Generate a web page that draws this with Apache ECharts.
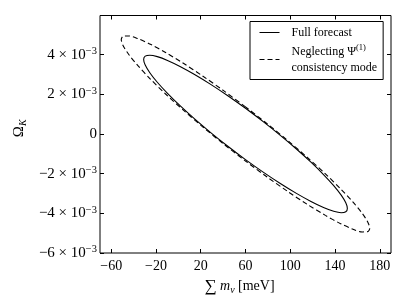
<!DOCTYPE html>
<html><head><meta charset="utf-8">
<script src="https://cdn.jsdelivr.net/npm/echarts@6/dist/echarts.min.js"></script>
<style>html,body{margin:0;padding:0;background:#fff}#c{width:407px;height:305px}</style>
</head><body><div id="c"></div>
<script>
// Sum m_nu [meV] and Omega_K (in units of 1e-3), points read around each contour
const fullX = [60.0,44.2,28.9,14.5,1.5,-9.7,-18.8,-25.5,-29.6,-31.0,-29.6,-25.5,-18.8,-9.7,1.5,14.5,28.9,44.2,60.0,75.8,91.1,105.5,118.5,129.7,138.8,145.5,149.6,151.0,149.6,145.5,138.8,129.7,118.5,105.5,91.1,75.8,60.0];
const fullY = [1.293,1.925,2.498,2.996,3.403,3.706,3.897,3.969,3.921,3.754,3.472,3.085,2.605,2.045,1.423,0.757,0.069,-0.621,-1.293,-1.925,-2.498,-2.996,-3.403,-3.706,-3.897,-3.969,-3.921,-3.754,-3.472,-3.085,-2.605,-2.045,-1.423,-0.757,-0.069,0.621,1.293];
const neglX = [60.0,40.7,22.0,4.5,-11.4,-25.0,-36.1,-44.3,-49.3,-51.0,-49.3,-44.3,-36.1,-25.0,-11.4,4.5,22.0,40.7,60.0,79.3,98.0,115.5,131.4,145.0,156.1,164.3,169.3,171.0,169.3,164.3,156.1,145.0,131.4,115.5,98.0,79.3,60.0];
const neglY = [1.364,2.170,2.910,3.561,4.104,4.522,4.803,4.938,4.923,4.758,4.449,4.005,3.439,2.768,2.013,1.197,0.346,-0.517,-1.364,-2.170,-2.910,-3.561,-4.104,-4.522,-4.803,-4.938,-4.923,-4.758,-4.449,-4.005,-3.439,-2.768,-2.013,-1.197,-0.346,0.517,1.364];
const xTicks = [-60,-20,20,60,100,140,180];
const yTicks = [-6,-4,-2,0,2,4];
const seriesNames = ['Full forecast','Neglecting Ψ(1) consistency mode'];

const FF = 'Liberation Serif';
const pair = (xs, ys) => xs.map((x, i) => [x, ys[i]]);
const minus = s => String(s).replace('-', '\u2212');

const chart = echarts.init(document.getElementById('c'), null, {renderer: 'canvas'});
const tickStyle = {show: true, inside: true, length: 4, lineStyle: {color: '#000', width: 1}};
const noLine = {show: false, onZero: false};
chart.setOption({
  animation: false,
  backgroundColor: '#fff',
  grid: {left: 100, right: 16, top: 15.5, bottom: 52, show: true, borderColor: '#000', borderWidth: 1, backgroundColor: 'transparent'},
  xAxis: [{
    type: 'value', min: -70, max: 190, position: 'bottom',
    axisLine: noLine, splitLine: {show: false},
    axisTick: Object.assign({customValues: xTicks}, tickStyle),
    axisLabel: {customValues: xTicks, margin: 6, color: '#000', fontFamily: FF, fontSize: 14, formatter: v => minus(v)},
    name: '{s|∑} {i|m}{sub|ν} [meV]', nameLocation: 'middle', nameGap: 18,
    nameTextStyle: {color: '#000', fontFamily: FF, fontSize: 14, padding: [0, 12, 0, 0], rich: {
      s: {fontFamily: FF, fontSize: 17, color: '#000', lineHeight: 18},
      i: {fontFamily: FF, fontStyle: 'italic', fontSize: 14, color: '#000', lineHeight: 18},
      sub: {fontFamily: FF, fontStyle: 'italic', fontSize: 10, color: '#000', verticalAlign: 'bottom', lineHeight: 12}
    }}
  }, {
    type: 'value', min: -70, max: 190, position: 'top',
    axisLine: noLine, splitLine: {show: false}, axisLabel: {show: false},
    axisTick: Object.assign({customValues: xTicks}, tickStyle)
  }],
  yAxis: [{
    type: 'value', min: -6, max: 5.97, position: 'left',
    axisLine: noLine, splitLine: {show: false},
    axisTick: Object.assign({customValues: yTicks}, tickStyle),
    axisLabel: {customValues: yTicks, margin: 3, color: '#000', fontFamily: FF, fontSize: 15,
      formatter: v => { const n = Math.round(v); return n === 0 ? '{n|0}' : '{n|' + minus(n) + ' × 10}{sup|\u22123}'; },
      rich: {
        n: {fontFamily: FF, fontSize: 15, color: '#000', lineHeight: 18},
        sup: {fontFamily: FF, fontSize: 10.5, color: '#000', verticalAlign: 'top', lineHeight: 10}
      }},
    name: '{o|Ω}{sub|K}', nameLocation: 'middle', nameGap: 68, nameRotate: 90,
    nameTextStyle: {color: '#000', fontFamily: FF, fontSize: 14, padding: [0, 0, 0, 12], rich: {
      o: {fontFamily: FF, fontSize: 15, color: '#000', lineHeight: 18},
      sub: {fontFamily: FF, fontStyle: 'italic', fontSize: 10, color: '#000', verticalAlign: 'bottom', lineHeight: 12}
    }}
  }, {
    type: 'value', min: -6, max: 5.97, position: 'right',
    axisLine: noLine, splitLine: {show: false}, axisLabel: {show: false},
    axisTick: Object.assign({customValues: yTicks}, tickStyle)
  }],
  legend: {
    orient: 'vertical', left: 250, top: 21.5, width: 122,
    padding: [3, 6, 4, 9], itemGap: 3, itemWidth: 20, itemHeight: 10,
    borderColor: '#000', borderWidth: 1, borderRadius: 0, backgroundColor: '#fff',
    data: seriesNames,
    itemStyle: {opacity: 0, borderWidth: 0},
    lineStyle: {width: 1},
    formatter: name => name === seriesNames[0] ? '{t|Full forecast}' : '{t|Neglecting Ψ}{sup|(1)}\n{t|consistency mode}',
    textStyle: {color: '#000', fontFamily: FF, fontSize: 12, padding: [0, 0, 0, 7], lineHeight: 16,
      rich: {
        t: {fontFamily: FF, fontSize: 12, color: '#000', lineHeight: 16},
        sup: {fontFamily: FF, fontSize: 8.5, color: '#000', verticalAlign: 'top', lineHeight: 11}
      }}
  },
  series: [{
    name: seriesNames[0], type: 'line', data: pair(fullX, fullY), xAxisIndex: 0, yAxisIndex: 0,
    showSymbol: false, symbol: 'none', smooth: 0.3, clip: true,
    lineStyle: {color: '#000', width: 1.1, type: 'solid'}, itemStyle: {color: '#000'}
  }, {
    name: seriesNames[1], type: 'line', data: pair(neglX, neglY), xAxisIndex: 0, yAxisIndex: 0,
    showSymbol: false, symbol: 'none', smooth: 0.3, clip: true,
    lineStyle: {color: '#000', width: 1.1, type: [5, 3]}, itemStyle: {color: '#000'}
  }]
});
</script></body></html>
